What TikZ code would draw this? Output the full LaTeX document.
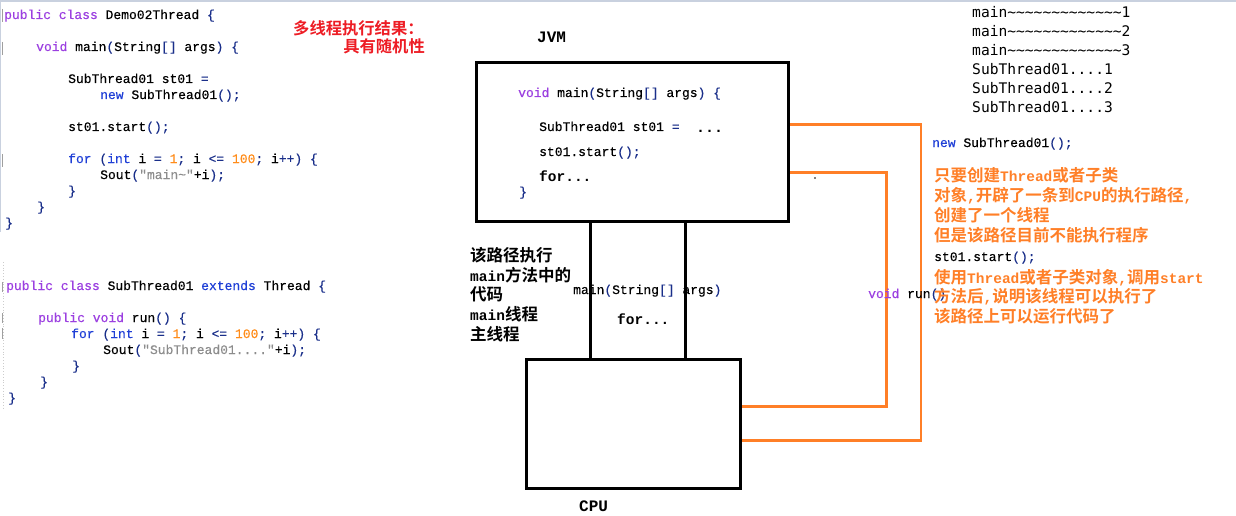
\documentclass[tikz,border=0pt]{standalone}
\usepackage{fontspec}
\newfontfamily\code{Liberation Mono}
\newfontfamily\codefb{Liberation Mono}[FakeBold=0.35]
\newfontfamily\cons{DejaVu Sans Mono}
\newfontfamily\cjkb{Noto Sans CJK SC Bold}
\definecolor{kwp}{HTML}{9B3FE0}
\definecolor{kwb}{HTML}{1F3FD6}
\definecolor{numo}{HTML}{FF8C1A}
\definecolor{strg}{HTML}{8C8C8C}
\definecolor{brc}{HTML}{1A2F8A}
\definecolor{porange}{HTML}{FF7F27}
\definecolor{pred}{HTML}{ED1C24}
\definecolor{barc}{HTML}{C9D1DF}
\newcommand\kp[1]{\textcolor{kwp}{#1}}
\newcommand\kb[1]{\textcolor{kwb}{#1}}
\newcommand\nm[1]{\textcolor{numo}{#1}}
\newcommand\sg[1]{\textcolor{strg}{#1}}
\newcommand\bc[1]{\textcolor{brc}{#1}}
\newcommand\lat[1]{{\code\bfseries\fontsize{14.5}{16}\selectfont #1}}
\newcommand\tld{\textasciitilde}
\tikzset{
  codeln/.style={anchor=base west, inner sep=0pt, font=\codefb\fontsize{13}{15}\selectfont},
  outln/.style={anchor=base west, inner sep=0pt, font=\cons\fontsize{14.6}{16}\selectfont},
  boldln/.style={anchor=base west, inner sep=0pt, font=\code\bfseries\fontsize{14.5}{16}\selectfont},
  titleln/.style={anchor=base west, inner sep=0pt, font=\code\bfseries\fontsize{16}{18}\selectfont},
  cjkln/.style={anchor=base west, inner sep=0pt, font=\cjkb\fontsize{16.5}{20}\selectfont},
  redln/.style={inner sep=0pt, text=pred, font=\cjkb\fontsize{16.3}{20}\selectfont},
  orln/.style={anchor=base west, inner sep=0pt, text=porange, font=\cjkb\fontsize{16.5}{20}\selectfont},
  bigbox/.style={draw=black, line width=3pt, inner sep=0pt, fill=white},
  blink/.style={draw=black, line width=3pt},
  olink/.style={draw=porange, line width=2.7pt}
}
\begin{document}
\begin{tikzpicture}[x=1pt,y=-1pt]
\useasboundingbox (0,0) rectangle (1236,516);
% editor artefacts
\fill[barc] (0,0) rectangle (1236,2.5);
\fill[barc] (0,0) rectangle (1.3,232);
\draw[gray!40, dotted, line width=0.8pt] (3,262) -- (3,410);
\foreach \a/\b in {9/22, 42/55, 154/167, 282/292, 313/323, 328/339}
  \draw[gray!75, line width=1pt] (2.8,\a) -- (2.8,\b);
% code 1
\node[codeln] (a1) at (4,19) {\kp{public class} Demo02Thread \bc{\{}};
\node[codeln] (a2) at (36,51) {\kp{void} main\bc{(}String\bc{[]} args\bc{)} \bc{\{}};
\node[codeln] (a3) at (68,83) {SubThread01 st01 \bc{=}};
\node[codeln] (a4) at (100,99) {\kb{new} SubThread01\bc{();}};
\node[codeln] (a5) at (68,131) {st01.start\bc{();}};
\node[codeln] (a6) at (68,163) {\kb{for} \bc{(}\kb{int} i \bc{=} \nm{1}\bc{;} i \bc{<=} \nm{100}\bc{;} i\bc{++)} \bc{\{}};
\node[codeln] (a7) at (100,179) {Sout\bc{(}\sg{"main\tld"}+i\bc{);}};
\node[codeln] (a8) at (68,195) {\bc{\}}};
\node[codeln] (a9) at (37,211) {\bc{\}}};
\node[codeln] (a10) at (5,227) {\bc{\}}};
% code 2
\node[codeln] (b1) at (6,290) {\kp{public class} SubThread01 \kb{extends} Thread \bc{\{}};
\node[codeln] (b2) at (38,322) {\kp{public void} run\bc{()} \bc{\{}};
\node[codeln] (b3) at (71,338) {\kb{for} \bc{(}\kb{int} i \bc{=} \nm{1}\bc{;} i \bc{<=} \nm{100}\bc{;} i\bc{++)} \bc{\{}};
\node[codeln] (b4) at (103,354) {Sout\bc{(}\sg{"SubThread01...."}+i\bc{);}};
\node[codeln] (b5) at (72,370) {\bc{\}}};
\node[codeln] (b6) at (40,386) {\bc{\}}};
\node[codeln] (b7) at (8,402) {\bc{\}}};
% red note
\node[redln, anchor=base west] (r1) at (293,34.6) {多线程执行结果：};
\node[redln, anchor=base east] (r2) at (425,52.6) {具有随机性};
% helper coordinates
\coordinate (y1) at (0,124.7);
\coordinate (y2) at (0,172.5);
\coordinate (c1) at (921,440.3);
\coordinate (c2) at (886.5,406.3);
\coordinate (p1) at (590.5,0);
\coordinate (p2) at (685.5,0);
% boxes
\node[bigbox, minimum width=312pt, minimum height=158.5pt] (jvm) at (632.5,141.75) {};
\node[bigbox, minimum width=214pt, minimum height=128.5pt] (cpu) at (633.5,423.75) {};
\draw[olink] (jvm.east |- y1) -| (c1) -- (cpu.east |- c1);
\draw[olink] (jvm.east |- y2) -| (c2) -- (cpu.east |- c2);
\draw[blink] (jvm.south -| p1) -- (cpu.north -| p1);
\draw[blink] (jvm.south -| p2) -- (cpu.north -| p2);
\node[titleln] (jvml) at (537,43) {JVM};
\node[titleln] (cpul) at (579,511) {CPU};
% inside JVM
\node[codeln] (j1) at (518,97) {\kp{void} main\bc{(}String\bc{[]} args\bc{)} \bc{\{}};
\node[codeln] (j2) at (539,131) {SubThread01 st01 \bc{=}};
\node[anchor=base west, inner sep=0pt, font=\code\bfseries\fontsize{15}{16}\selectfont] (j2b) at (696,132) {...};
\node[codeln] (j3) at (539,156) {st01.start\bc{();}};
\node[boldln] (j4) at (539,181) {for...};
\node[codeln] (j5) at (519,196) {\bc{\}}};
% between
\node[codeln] (m1) at (573,294) {main\bc{(}String\bc{[]} args\bc{)}};
\node[boldln] (m2) at (617,324) {for...};
\node[cjkln] (k1) at (470,261) {该路径执行};
\node[cjkln] (k2) at (470,281) {\lat{main}方法中的};
\node[cjkln] (k3) at (470,300.5) {代码};
\node[cjkln] (k4) at (470,320.5) {\lat{main}线程};
\node[cjkln] (k5) at (470,340.5) {主线程};
\fill (815,178) circle (0.9pt);
\node[codeln] (vr) at (868,298) {\kp{void} run\bc{()}};
% output
\node[outln] (o1) at (972,18) {main\tld\tld\tld\tld\tld\tld\tld\tld\tld\tld\tld\tld\tld 1};
\node[outln] (o2) at (972,37) {main\tld\tld\tld\tld\tld\tld\tld\tld\tld\tld\tld\tld\tld 2};
\node[outln] (o3) at (972,56) {main\tld\tld\tld\tld\tld\tld\tld\tld\tld\tld\tld\tld\tld 3};
\node[outln] (o4) at (972,75) {SubThread01....1};
\node[outln] (o5) at (972,94) {SubThread01....2};
\node[outln] (o6) at (972,113) {SubThread01....3};
\node[codeln] (nw) at (932,147) {\kb{new} SubThread01\bc{();}};
% orange notes
\node[orln] (n1) at (934,181.6) {只要创建\lat{Thread}或者子类};
\node[orln] (n2) at (934,201.6) {对象\lat{,}开辟了一条到\lat{CPU}的执行路径\lat{,}};
\node[orln] (n3) at (934,221) {创建了一个线程};
\node[orln] (n4) at (934,241) {但是该路径目前不能执行程序};
\node[codeln] (n5) at (934,261) {st01.start\bc{();}};
\node[orln] (n6) at (934,283) {使用\lat{Thread}或者子类对象\lat{,}调用\lat{start}};
\node[orln] (n7) at (934,302) {方法后\lat{,}说明该线程可以执行了};
\node[orln] (n8) at (934,322) {该路径上可以运行代码了};
\end{tikzpicture}
\end{document}
